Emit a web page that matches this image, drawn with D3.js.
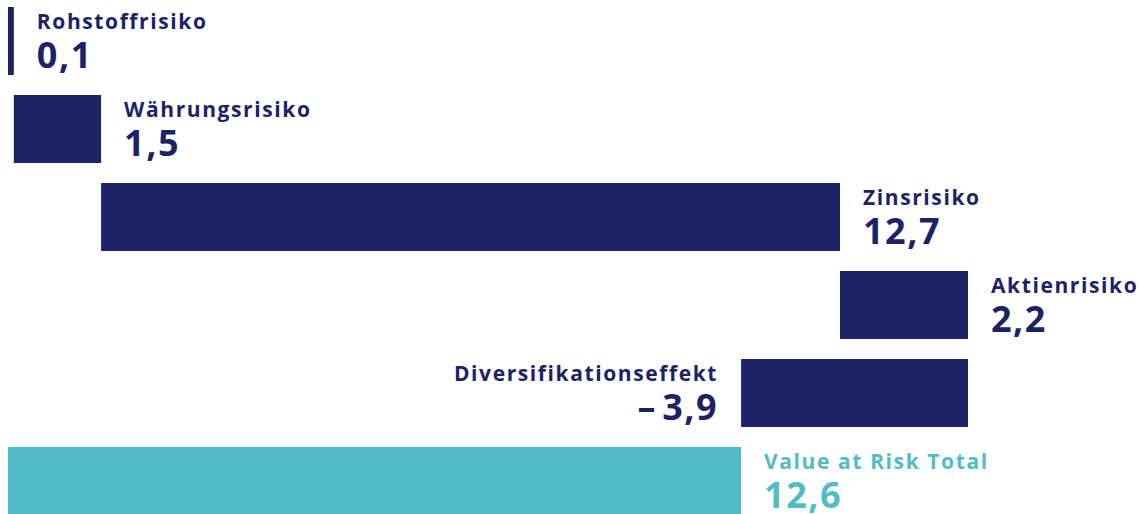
<!DOCTYPE html>
<html>
<head>
<meta charset="utf-8">
<script src="https://cdn.jsdelivr.net/npm/d3@7"></script>
<style>
  html, body { margin: 0; padding: 0; background: #ffffff; }
  svg { display: block; }
  text { font-family: "Open Sans", "Noto Sans", sans-serif; font-weight: 700; }
</style>
</head>
<body>
<svg id="chart" width="1141" height="514"></svg>
<script>
// Value at Risk by risk type (waterfall), EUR
const categories = ["Rohstoffrisiko", "Währungsrisiko", "Zinsrisiko", "Aktienrisiko", "Diversifikationseffekt", "Value at Risk Total"];
const values = [0.1, 1.5, 12.7, 2.2, -3.9, 12.6];
const isTotal = [false, false, false, false, false, true];

const navy = "#1b2366";
const teal = "#50bdc6";

// German number format with an en dash for negatives
const de = d3.formatLocale({ decimal: ",", thousands: ".", grouping: [3], currency: ["", " €"], minus: "\u2013\u200A" });
const fmt = de.format(".1f");

// running start/end of each step
let running = 0;
const rows = categories.map((name, i) => {
  let start, end;
  if (isTotal[i]) { start = 0; end = values[i]; running = values[i]; }
  else { start = running; end = running + values[i]; running = end; }
  return { name, value: values[i], start, end, total: isTotal[i] };
});

const svg = d3.select("#chart");

const x = d3.scaleLinear()
  .domain([0, d3.max(rows, d => Math.max(d.start, d.end))])
  .range([8, 968]);

const y = d3.scaleBand()
  .domain(categories)
  .range([7, 515])
  .paddingInner(20 / 88)
  .paddingOuter(0);

const g = svg.selectAll("g.row")
  .data(rows)
  .join("g")
  .attr("class", "row");

g.append("rect")
  .attr("x", d => x(Math.min(d.start, d.end)))
  .attr("y", d => y(d.name))
  .attr("width", d => Math.abs(x(d.end) - x(d.start)))
  .attr("height", y.bandwidth())
  .attr("fill", d => d.total ? teal : navy);

// labels sit beside the bar end, on the side the step moves toward
const gap = 23;
const labelX = d => d.value < 0 ? x(Math.min(d.start, d.end)) - gap : x(Math.max(d.start, d.end)) + gap;
const anchor = d => d.value < 0 ? "end" : "start";

g.append("text")
  .attr("x", labelX)
  .attr("y", d => y(d.name) + 22)
  .attr("text-anchor", anchor)
  .attr("font-size", 21)
  .attr("letter-spacing", 1.6)
  .attr("fill", d => d.total ? teal : navy)
  .text(d => d.name);

g.append("text")
  .attr("x", labelX)
  .attr("y", d => y(d.name) + 61)
  .attr("text-anchor", anchor)
  .attr("font-size", 36)
  .attr("letter-spacing", 1.5)
  .attr("fill", d => d.total ? teal : navy)
  .text(d => fmt(d.value));
</script>
</body>
</html>
